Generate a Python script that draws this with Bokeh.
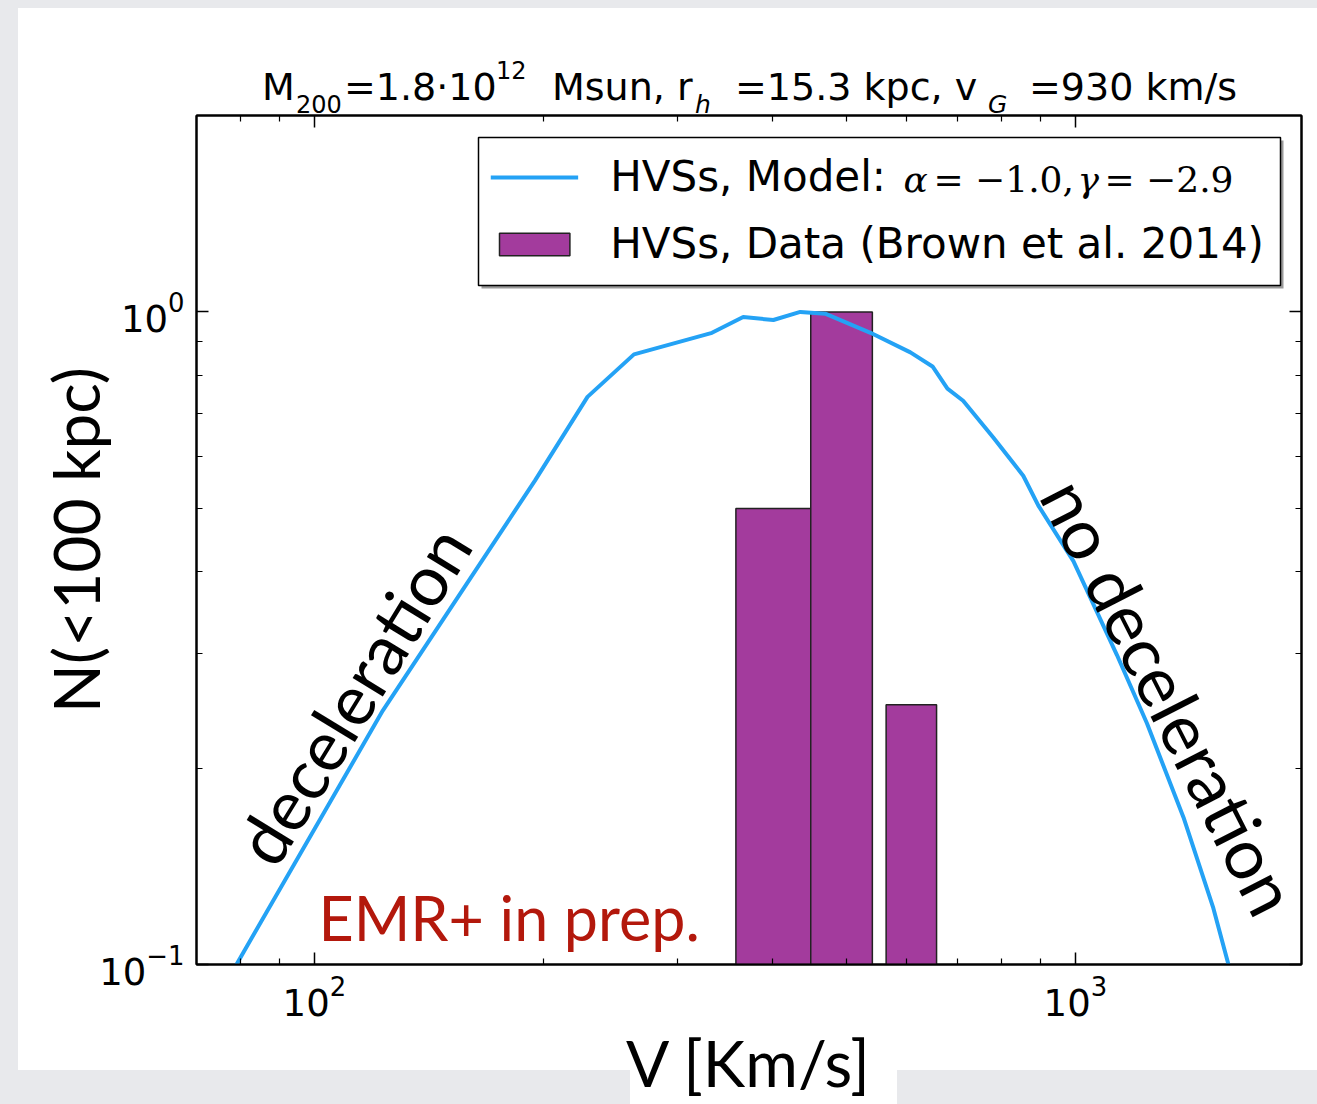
import numpy as np
from bokeh.plotting import figure
from bokeh.layouts import column
from bokeh.models import (Range1d, LogAxis, Legend, LegendItem, Label, Div, BoxAnnotation,
                          CustomJSTickFormatter, FixedTicker, LogTickFormatter)
from bokeh.embed import file_html
from bokeh.resources import INLINE

# ---------------- data ----------------
model_v = [79, 123, 195, 228.5, 263, 333, 366, 401, 435, 469, 538, 607, 649,
           679, 712, 780, 854, 894, 994, 1134, 1242, 1387, 1518, 1589]
model_n = [0.100, 0.245, 0.552, 0.741, 0.861, 0.929, 0.982, 0.972, 1.0, 0.994,
           0.929, 0.867, 0.825, 0.763, 0.731, 0.642, 0.561, 0.505, 0.415,
           0.298, 0.234, 0.168, 0.122, 0.100]
bin_left = [358, 449, 564]
bin_right = [449, 541, 657]
bin_count = [0.5, 1.0, 0.25]

x_major = [100, 1000]
x_minor = [80, 90, 200, 300, 400, 500, 600, 700, 800, 900]
y_major = [0.1, 1.0]
y_minor = [0.2, 0.3, 0.4, 0.5, 0.6, 0.7, 0.8, 0.9]

x_lim = (70, 1982)
y_lim = (0.1, 2.0)

# ---------------- style ----------------
BLUE = "#24a2f5"
PURPLE = "#a33b9d"
RED = "#b3180c"
GRAY = "#e8e9ec"
SANS = "DejaVu Sans"
SERIF = "DejaVu Serif"
GILL = "Lato"

W, H = 1317, 1104
DIV_H = 113
FL, FR, FT, FB = 196, 1301, 115, 964  # frame edges in page pixels
PH = H - DIV_H


def xd(px):
    a, b = np.log10(x_lim[0]), np.log10(x_lim[1])
    return float(10 ** (a + (px - FL) / (FR - FL) * (b - a)))


def yd(py):
    a, b = np.log10(y_lim[0]), np.log10(y_lim[1])
    return float(10 ** (a + (FB - py) / (FB - FT) * (b - a)))


# ---------------- title (HTML so that sub/superscripts are real text) ----------------
title_parts = [
    ("M", 262, 100, 38, "normal"),
    ("200", 296, 113, 24, "normal"),
    ("=1.8·10", 344, 100, 38, "normal"),
    ("12", 496, 79, 24, "normal"),
    ("Msun, r", 552, 100, 38, "normal"),
    ("h", 695, 113, 25, "italic"),
    ("=15.3 kpc, v", 735, 100, 38, "normal"),
    ("G", 988, 113, 25, "italic"),
    ("=930 km/s", 1029, 100, 38, "normal"),
]
spans = []
for txt, x, base, size, style in title_parts:
    top = base - 0.846 * size
    spans.append(
        f'<span style="position:absolute;left:{x}px;top:{top:.1f}px;'
        f"font-family:'{SANS}';font-size:{size}px;font-style:{style};"
        f'line-height:1;white-space:nowrap;color:black">{txt}</span>')
title_html = (
    f'<div style="position:relative;width:{W}px;height:{DIV_H}px;overflow:visible;'
    f'background:linear-gradient(white,white) 18px 8px / {W - 18}px {DIV_H}px no-repeat, {GRAY};">'
    + "".join(spans) + "</div>")
title_div = Div(text=title_html, width=W, height=DIV_H, margin=(0, 0, 0, 0),
                styles={"overflow": "visible"})

# ---------------- figure ----------------
p = figure(width=W, height=PH, x_axis_type="log", y_axis_type="log",
           x_range=Range1d(*x_lim), y_range=Range1d(*y_lim),
           output_backend="svg", toolbar_location=None,
           min_border_left=FL, min_border_right=W - FR,
           min_border_top=FT - DIV_H, min_border_bottom=H - FB,
           margin=(0, 0, 0, 0))
p.border_fill_color = None
p.background_fill_color = "white"
p.outline_line_color = "black"
p.outline_line_width = 2
p.grid.visible = False
white_h = 1070 - DIV_H
p.styles = {"background": (
    f"linear-gradient(white,white) 18px 0px / {W - 18}px {white_h}px no-repeat, "
    f"linear-gradient(white,white) 630px {white_h}px / 267px {PH - white_h}px no-repeat, "
    f"{GRAY}")}

# legend frame (drawn as boxes so that the math text can sit on top of it)
LB_L, LB_R, LB_T, LB_B = 478, 1280, 137, 285
p.add_layout(BoxAnnotation(left=LB_L + 3, right=LB_R + 3, top=LB_T - DIV_H + 3,
                           bottom=LB_B - DIV_H + 3,
                           left_units="canvas", right_units="canvas",
                           top_units="canvas", bottom_units="canvas",
                           fill_color="#9a9a9a", fill_alpha=1.0, line_color=None,
                           level="underlay"))
p.add_layout(BoxAnnotation(left=LB_L, right=LB_R, top=LB_T - DIV_H, bottom=LB_B - DIV_H,
                           left_units="canvas", right_units="canvas",
                           top_units="canvas", bottom_units="canvas",
                           fill_color="white", fill_alpha=1.0,
                           line_color="black", line_width=1.5, line_alpha=1.0,
                           level="underlay"))

bars = p.quad(left=bin_left, right=bin_right, top=bin_count, bottom=y_lim[0],
              fill_color=PURPLE, line_color="#222222", line_width=1.5)
curve = p.line(model_v, model_n, line_color=BLUE, line_width=4)


def style_axis(ax):
    ax.axis_line_color = "black"
    ax.axis_line_width = 2
    ax.major_tick_in = 12
    ax.major_tick_out = 0
    ax.minor_tick_in = 6
    ax.minor_tick_out = 0
    ax.major_tick_line_width = 1.5
    ax.minor_tick_line_width = 1.2
    ax.major_tick_line_color = "black"
    ax.minor_tick_line_color = "black"


xticker = FixedTicker(ticks=x_major, minor_ticks=x_minor)
yticker = FixedTicker(ticks=y_major, minor_ticks=y_minor)
xax = p.xaxis[0]
yax = p.yaxis[0]
xax.ticker = xticker
yax.ticker = yticker
for ax in (xax, yax):
    style_axis(ax)
    ax.formatter = LogTickFormatter()
    ax.major_label_text_font = SANS
    ax.major_label_text_font_size = "37px"
    ax.major_label_text_color = "black"
    ax.axis_label_text_font = GILL
    ax.axis_label_text_font_size = "64px"
    ax.axis_label_text_font_style = "normal"
    ax.axis_label_text_color = "black"
xax.axis_label = "V [Km/s]"
yax.axis_label = "N(<100 kpc)"
xax.major_label_standoff = 10
xax.axis_label_standoff = 5
yax.major_label_standoff = 12
yax.axis_label_standoff = -18

blank = CustomJSTickFormatter(code="return ''")
top_ax = LogAxis(ticker=xticker, formatter=blank)
right_ax = LogAxis(ticker=yticker, formatter=blank)
for ax in (top_ax, right_ax):
    style_axis(ax)
    ax.major_label_standoff = 0
    ax.major_label_text_font_size = "1px"
p.add_layout(top_ax, "above")
p.add_layout(right_ax, "right")

# legend (transparent; its frame is the boxes above)
legend = Legend(items=[LegendItem(label="HVSs, Model:", renderers=[curve]),
                       LegendItem(label="HVSs, Data (Brown et al. 2014)", renderers=[bars])],
                location="top_right", margin=37, padding=0, spacing=18,
                glyph_width=88, glyph_height=28, label_standoff=32,
                label_text_font=SANS, label_text_font_size="42px",
                label_text_color="black",
                border_line_color=None, background_fill_alpha=0.0)
p.add_layout(legend)

# math part of the first legend entry
for txt, px, style in [("α", 903, "italic"), ("= −1.0,", 933, "normal"),
                       ("γ", 1077, "italic"), ("= −2.9", 1104, "normal")]:
    p.add_layout(Label(x=xd(px), y=yd(179), text=txt, text_font=SERIF,
                       text_font_size="36px", text_font_style=style,
                       text_baseline="alphabetic", text_align="left",
                       text_color="black"))

# annotations
p.add_layout(Label(x=xd(352), y=yd(694), text="deceleration", angle=float(np.deg2rad(58.5)),
                   text_font=GILL, text_font_size="70px",
                   text_align="center", text_baseline="middle", text_color="black"))
p.add_layout(Label(x=xd(1170), y=yd(696), text="no deceleration", angle=float(np.deg2rad(-63)),
                   text_font=GILL, text_font_size="70px",
                   text_align="center", text_baseline="middle", text_color="black"))
p.add_layout(Label(x=xd(318), y=yd(917), text="EMR+ in prep.",
                   text_font=GILL, text_font_size="61px",
                   text_align="left", text_baseline="alphabetic", text_color=RED))

root = column(title_div, p, spacing=0, margin=(0, 0, 0, 0),
              styles={"background-color": GRAY})
open("out.html", "w").write(file_html(root, INLINE))
